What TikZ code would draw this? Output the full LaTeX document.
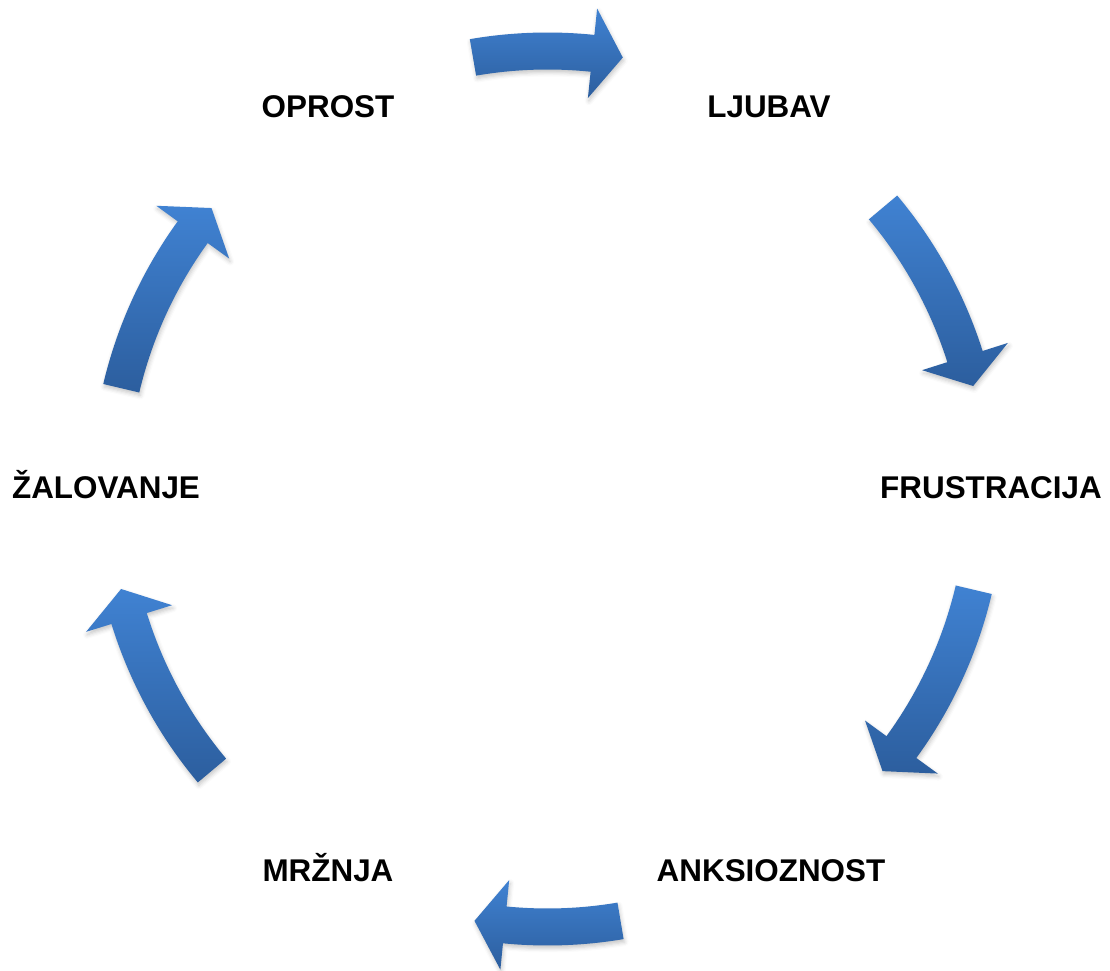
\documentclass[tikz,border=0pt]{standalone}
\usepackage{fontspec}
\setmainfont{Liberation Sans}
\usetikzlibrary{shadows.blur}
\definecolor{arrowlight}{RGB}{64,130,210}
\definecolor{arrowdark}{RGB}{44,94,158}
\newcommand\cycarrow[3]{%
  \shade[arrowshade] ($(C)+(#1:456.5)$) arc[start angle=#1, end angle=#2, radius=456.5]
    -- ($(C)+(#2:483)$) -- ($(C)+(#3:438)$) -- ($(C)+(#2:393)$) -- ($(C)+(#2:419.5)$)
    arc[start angle=#2, end angle=#1, radius=419.5] -- cycle;}
\usetikzlibrary{calc}
\begin{document}
\begin{tikzpicture}[x=1pt,y=1pt,
  arrowshade/.style={top color=arrowlight, bottom color=arrowdark,
    blur shadow={shadow xshift=1pt, shadow yshift=-3pt, shadow opacity=22, shadow blur radius=4pt}},
  lbl/.style={anchor=base, inner sep=0pt, font=\bfseries\fontsize{31.4}{36}\selectfont, text=black}]
\useasboundingbox (0,0) rectangle (1110,970);
\coordinate (C) at (547.5,481);
% labels (baseline positions)
\node[lbl] (oprost) at (328,852.5) {OPROST};
\node[lbl] (ljubav) at (769,852.5) {LJUBAV};
\node[lbl] (frustracija) at (991,471) {FRUSTRACIJA};
\node[lbl] (anksioznost) at (771,89) {ANKSIOZNOST};
\node[lbl] (mrznja) at (328,89) {MRŽNJA};
\node[lbl] (zalovanje) at (106,471) {ŽALOVANJE};
% circular arrows: tail angle, head base angle, tip angle
\cycarrow{99.8}{84.1}{80.1}
\cycarrow{40}{17.6}{13.6}
\cycarrow{-13.3}{-36.1}{-40.1}
\cycarrow{-80.4}{-95.6}{-99.6}
\cycarrow{-140}{-162.8}{-166.8}
\cycarrow{166.7}{144.1}{140.1}
\end{tikzpicture}
\end{document}
